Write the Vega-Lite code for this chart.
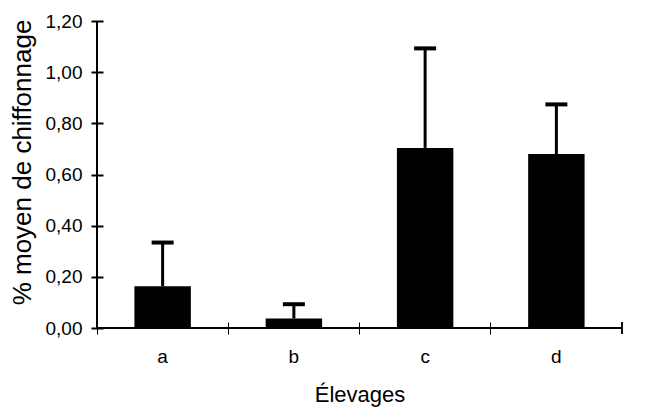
{
  "$schema": "https://vega.github.io/schema/vega-lite/v6.json",
  "width": 525,
  "height": 307,
  "autosize": "none",
  "padding": {"left": 97, "top": 21, "right": 30, "bottom": 81},
  "background": "white",
  "config": {
    "view": {"stroke": null},
    "font": "Liberation Sans",
    "axis": {"labelFont": "Liberation Sans", "titleFont": "Liberation Sans", "labelColor": "black", "titleColor": "black", "domainColor": "black", "tickColor": "black", "grid": false, "titleFontWeight": "normal", "labelFontSize": 19, "domain": false, "offset": -6, "tickSize": 12},
    "axisX": {"labelAngle": 0, "bandPosition": 0, "tickWidth": 1, "labelPadding": 13, "titlePadding": 18, "titleFontSize": 22, "labelFontSize": 19},
    "axisY": {"tickWidth": 2, "labelPadding": 9, "titlePadding": 10, "titleY": 141, "titleFontSize": 26, "labelFontSize": 19}
  },
  "data": {"values": [
    {"elevage": "a", "moyenne": 0.163, "haut": 0.334},
    {"elevage": "b", "moyenne": 0.037, "haut": 0.093},
    {"elevage": "c", "moyenne": 0.704, "haut": 1.093},
    {"elevage": "d", "moyenne": 0.680, "haut": 0.874}
  ]},
  "layer": [
    {
      "mark": {"type": "bar", "color": "black", "width": {"band": 0.43}},
      "encoding": {
        "x": {"field": "elevage", "type": "nominal", "scale": {"paddingInner": 0, "paddingOuter": 0},
          "axis": {"title": "Élevages"}},
        "y": {"field": "moyenne", "type": "quantitative", "scale": {"domain": [0, 1.2], "nice": false},
          "axis": {"title": "% moyen de chiffonnage", "values": [0, 0.2, 0.4, 0.6, 0.8, 1.0, 1.2], "labelExpr": "replace(format(datum.value, '.2f'), '.', ',')"}}
      }
    },
    {
      "mark": {"type": "rule", "color": "black", "strokeWidth": 3},
      "encoding": {
        "x": {"field": "elevage", "type": "nominal"},
        "y": {"field": "moyenne", "type": "quantitative"},
        "y2": {"field": "haut"}
      }
    },
    {
      "mark": {"type": "tick", "color": "black", "opacity": 1, "size": 22, "thickness": 4},
      "encoding": {
        "x": {"field": "elevage", "type": "nominal"},
        "y": {"field": "haut", "type": "quantitative"}
      }
    },
    {
      "mark": {"type": "rule", "color": "black", "strokeWidth": 2},
      "encoding": {
        "y": {"datum": 0, "type": "quantitative"}
      }
    },
    {
      "mark": {"type": "rule", "color": "black", "strokeWidth": 2},
      "encoding": {
        "x": {"datum": "a", "type": "nominal", "bandPosition": 0}
      }
    },
    {
      "mark": {"type": "rule", "color": "black", "strokeWidth": 1, "yOffset": -6, "y2Offset": 6},
      "encoding": {
        "x": {"datum": "d", "type": "nominal", "bandPosition": 1},
        "y": {"datum": 0, "type": "quantitative"},
        "y2": {"datum": 0}
      }
    }
  ]
}
